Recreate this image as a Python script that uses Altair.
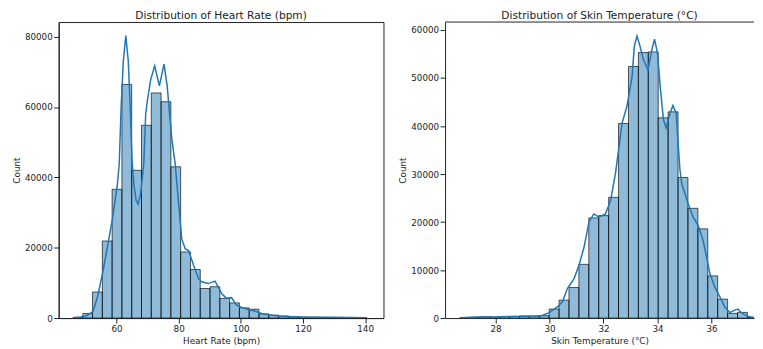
import altair as alt
import pandas as pd
import numpy as np

# ---------------- Heart rate histogram (30 bins) ----------------
hr_lo, hr_hi = 46.0, 140.5
hr_counts = [200, 1300, 7400, 21900, 36600, 66400, 42000, 54800, 64000, 61500,
             43000, 18800, 13800, 8400, 8900, 5600, 4300, 2900, 2500, 1200,
             850, 560, 380, 300, 250, 200, 150, 120, 80, 60]

# KDE curve
hr_kde_x = [46.0, 48.5, 50.2, 52.4, 53.9, 55.5, 57.1, 58.7, 60.3, 60.9, 61.5, 62.2,
            63.0, 63.8, 64.4, 65.0, 65.6, 66.3, 67.0, 67.8, 68.8, 69.4, 69.9, 71.0,
            72.3, 73.8, 75.3, 76.3, 77.8, 78.9, 80.0, 81.0, 82.1, 83.2, 84.8, 86.4,
            87.4, 89.5, 91.7, 93.8, 95.4, 97.0, 98.6, 101.2, 104.4, 107.6, 111.9,
            119.3, 129.9, 140.5]
hr_kde_y = [100, 300, 600, 1800, 6000, 12600, 20200, 28200, 38000, 44000, 60000, 73000,
            80300, 73000, 60000, 45000, 38000, 33500, 32400, 35500, 44000, 58000, 61500, 67800,
            71700, 66000, 72200, 66000, 51000, 43700, 32400, 22500, 19700, 19200, 15000, 11200,
            10300, 9800, 10500, 7000, 5600, 5800, 3700, 2700, 2000, 1050, 570,
            280, 200, 100]

hr_xticks = [60, 80, 100, 120, 140]
hr_yticks = [0, 10000, 20000, 30000, 40000, 50000, 60000, 70000, 80000]

# ---------------- Skin temperature histogram (30 bins) ----------------
st_lo, st_hi = 26.68, 37.70
st_counts = [100, 150, 250, 200, 300, 350, 450, 450, 500, 1870,
             3730, 6360, 11190, 20860, 21340, 25140, 40530, 52400, 55300, 55440,
             41710, 42950, 29280, 22860, 18580, 8780, 3940, 970, 1180, 150]

st_kde_x = [26.68, 27.3, 28.0, 28.5, 29.0, 29.4, 29.68, 29.99, 30.30, 30.48, 30.66, 30.91,
            31.09, 31.28, 31.46, 31.64, 31.83, 32.07, 32.26, 32.44, 32.69, 32.87, 33.06,
            33.14, 33.24, 33.34, 33.48, 33.65, 33.79, 33.89, 34.00, 34.10, 34.22, 34.32,
            34.47, 34.57, 34.69, 34.83, 34.90, 35.02, 35.14, 35.32, 35.51, 35.69, 35.82,
            35.94, 36.12, 36.31, 36.49, 36.68, 36.86, 36.98, 37.15, 37.40, 37.70]
st_kde_y = [50, 200, 200, 300, 350, 350, 420, 1120, 2360, 3400, 6150, 8220,
            10980, 14790, 19970, 21690, 21000, 21690, 24440, 30000, 40670, 44120, 50330,
            56540, 58760, 56900, 53790, 51720, 55860, 58070, 55170, 48260, 41360, 39640,
            42740, 44260, 42740, 31000, 27900, 25830, 23760, 21000, 19260, 16160, 12720,
            9260, 6500, 4430, 2360, 1120, 1660, 1860, 900, 250, 50]

st_xticks = [28, 30, 32, 34, 36]
st_yticks = [0, 10000, 20000, 30000, 40000, 50000, 60000]

BLUE = "#1f77b4"
INK = "#222222"
FONT = "DejaVu Sans"


def bins_frame(lo, hi, counts):
    edges = np.linspace(lo, hi, len(counts) + 1)
    return pd.DataFrame({"start": edges[:-1], "end": edges[1:], "count": counts,
                         "base": [0] * len(counts)})


def panel(bdf, kdf, title, xtitle, xdom, ydom, xticks, yticks, width, height, right_open):
    xs = alt.Scale(domain=xdom, nice=False, zero=False)
    ys = alt.Scale(domain=ydom, nice=False)
    xax = alt.Axis(values=xticks, title=xtitle, grid=False, format="d")
    yax = alt.Axis(values=yticks, title="Count", grid=False, format="d")
    bars = alt.Chart(bdf).mark_rect(
        color=BLUE, fillOpacity=0.5, stroke="#000000", strokeOpacity=0.65, strokeWidth=1,
        clip=True
    ).encode(
        x=alt.X("start:Q", scale=xs, axis=xax),
        x2="end:Q",
        y=alt.Y("count:Q", scale=ys, axis=yax),
        y2="base:Q",
    )
    line = alt.Chart(kdf).mark_line(color=BLUE, strokeWidth=1.5, clip=True).encode(
        x=alt.X("x:Q", scale=xs),
        y=alt.Y("y:Q", scale=ys),
    )
    layers = [bars, line]
    props = dict(width=width, height=height,
                 title=alt.TitleParams(title, font=FONT, fontSize=10.7, fontWeight="normal",
                                       color=INK, offset=-1, dy=-1))
    if right_open:
        top = alt.Chart(pd.DataFrame({"k": [0]})).mark_rule(color=INK, strokeWidth=1).encode(
            x=alt.value(0), x2=alt.value(width), y=alt.value(0)
        )
        layers.append(top)
        props["view"] = alt.ViewBackground(stroke="transparent")
    return alt.layer(*layers).properties(**props)


hr_bins = bins_frame(hr_lo, hr_hi, hr_counts)
st_bins = bins_frame(st_lo, st_hi, st_counts)
hr_kde = pd.DataFrame({"x": hr_kde_x, "y": hr_kde_y})
st_kde = pd.DataFrame({"x": st_kde_x, "y": st_kde_y})

left = panel(hr_bins, hr_kde, "Distribution of Heart Rate (bpm)", "Heart Rate (bpm)",
             [41.4, 145.9], [0, 84150], hr_xticks, hr_yticks, 327, 298, False)
right = panel(st_bins, st_kde, "Distribution of Skin Temperature (°C)", "Skin Temperature (°C)",
              [26.13, 37.576], [0, 61660], st_xticks, st_yticks, 311, 298, True)

chart = alt.hconcat(left, right, spacing=14).properties(
    padding={"left": 4, "top": 0, "right": 0, "bottom": 0}
).configure_view(
    stroke=INK, strokeWidth=1
).configure_axis(
    labelFont=FONT, labelFontSize=8.8, labelColor=INK, labelPadding=1.5,
    tickColor=INK, tickSize=5, domainColor=INK,
    titleFont=FONT, titleFontSize=8.9, titleFontWeight="normal", titleColor=INK,
    titlePadding=3,
)

chart.save("out.html", embed_options={"renderer": "svg", "actions": False})
